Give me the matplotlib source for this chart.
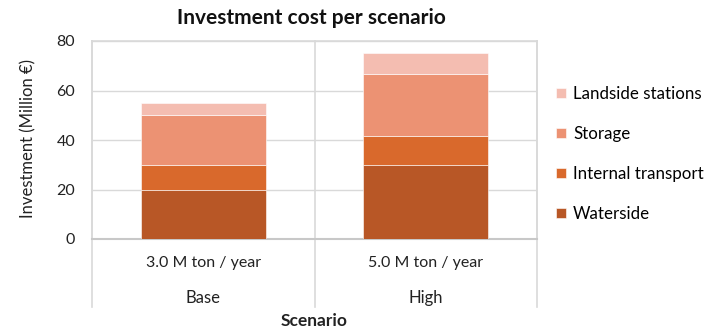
import matplotlib
matplotlib.use("Agg")
import matplotlib.pyplot as plt
import matplotlib.transforms as mtransforms
import numpy as np

plt.rcParams['font.family'] = ['Lato', 'DejaVu Sans']

scenarios = ["Base", "High"]
capacities = ["3.0 M ton / year", "5.0 M ton / year"]
series_names = ["Waterside", "Internal transport", "Storage", "Landside stations"]
waterside = [19.7, 29.7]
internal_transport = [10.1, 12.0]
storage = [20.4, 25.1]
landside_stations = [4.8, 8.4]
colors = ["#B85726", "#D9692C", "#EC9273", "#F4BDB1"]

fig = plt.figure(figsize=(7.16, 3.29), dpi=100)
ax = fig.add_axes([92/716, 1 - 239/329, (537-92)/716, (239-41)/329])

x = np.arange(len(scenarios))
bottom = np.zeros(len(scenarios))
handles = []
for name, vals, c in zip(series_names, [waterside, internal_transport, storage, landside_stations], colors):
    b = ax.bar(x, vals, width=0.56, bottom=bottom, color=c, label=name, zorder=3,
               edgecolor='white', linewidth=0.4)
    handles.append(b)
    bottom += np.array(vals)

ax.set_xlim(-0.5, 1.5)
ax.set_ylim(0, 80)
ax.set_yticks([0, 20, 40, 60, 80])
ax.tick_params(axis='y', length=0, labelsize=11.5, pad=12, colors='#222222')
ax.set_xticks([])
ax.yaxis.grid(True, color='#D9D9D9', linewidth=1, zorder=0)
for s in ['top', 'right', 'left']:
    ax.spines[s].set_color('#D9D9D9')
    ax.spines[s].set_linewidth(1.2)
ax.spines['bottom'].set_color('#C8C8C8')
ax.spines['bottom'].set_linewidth(1.5)

trans = mtransforms.blended_transform_factory(ax.transData, ax.transAxes)
for xv in [-0.5, 0.5, 1.5]:
    ax.plot([xv, xv], [-0.345, 1.0], transform=trans, color='#D9D9D9', linewidth=1.2,
            clip_on=False, zorder=1)

for i in range(len(scenarios)):
    ax.text(x[i], -24/198, capacities[i], transform=trans, ha='center', va='center',
            fontsize=11.5, color='#222222')
    ax.text(x[i], -59/198, scenarios[i], transform=trans, ha='center', va='center',
            fontsize=12, color='#222222')

ax.text(0.5, -82/198, "Scenario", transform=ax.transAxes, ha='center', va='center',
        fontsize=12.5, fontweight='bold', color='#222222')
fig.text(28/716, 1 - 138/329, "Investment (Million €)", rotation=90, ha='center', va='center',
         fontsize=12, color='#222222')
fig.text(311/716, 1 - 18/329, "Investment cost per scenario", ha='center', va='center',
         fontsize=15, fontweight='bold', color='#111111')

leg = fig.legend(handles[::-1], series_names[::-1], loc='center left',
                 bbox_to_anchor=(541/716, 1 - 154/329), frameon=False, fontsize=12.2,
                 handlelength=0.6, handleheight=0.6, handletextpad=0.4, labelspacing=1.42)

fig.savefig("out.png", dpi=100)
